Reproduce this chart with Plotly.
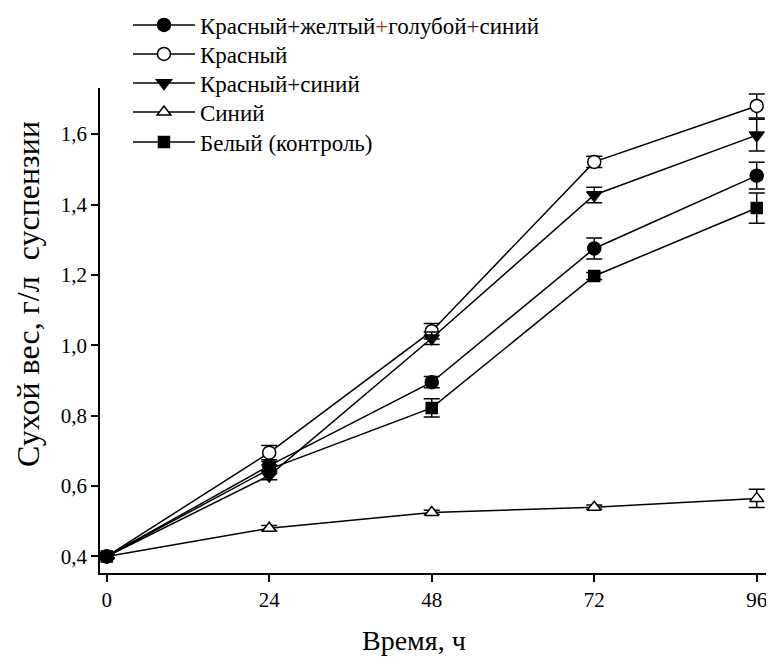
import plotly.graph_objects as go

hours = [0, 24, 48, 72, 96]

names = [
    'Красный+желтый<span style="color:#a8382c">+</span>голубой<span style="color:#5e1a35">+</span>синий',
    "Красный",
    "Красный+синий",
    "Синий",
    "Белый (контроль)",
]
ryb_vals = [0.40, 0.658, 0.895, 1.275, 1.482]
ryb_err = [0.005, 0.012, 0.016, 0.030, 0.038]
red_vals = [0.40, 0.695, 1.040, 1.521, 1.680]
red_err = [0.005, 0.020, 0.022, 0.016, 0.034]
rb_vals = [0.40, 0.630, 1.020, 1.427, 1.597]
rb_err = [0.005, 0.012, 0.018, 0.022, 0.045]
blue_vals = [0.40, 0.480, 0.525, 0.540, 0.565]
blue_err = [0.004, 0.008, 0.006, 0.006, 0.026]
white_vals = [0.40, 0.648, 0.822, 1.197, 1.390]
white_err = [0.005, 0.012, 0.026, 0.010, 0.043]

series_vals = [ryb_vals, red_vals, rb_vals, blue_vals, white_vals]
series_err = [ryb_err, red_err, rb_err, blue_err, white_err]
symbols = ["circle", "circle-open", "triangle-down", "triangle-up-open", "square"]
sizes = [13, 13, 13, 12, 11]

x_ticks = [0, 24, 48, 72, 96]
y_ticks = [0.4, 0.6, 0.8, 1.0, 1.2, 1.4, 1.6]
x_title = "Время, ч"
y_title = "Сухой вес, г/л  суспензии"

SERIF = "Liberation Serif"

legend_ids = ["legend", "legend2", "legend3", "legend4", "legend5"]
legend_rows = [0.970, 0.9186, 0.8673, 0.8159, 0.7628]

fig = go.Figure()
for name, vals, err, sym, sz, lid in zip(names, series_vals, series_err, symbols, sizes, legend_ids):
    is_open = sym.endswith("-open")
    base = sym.replace("-open", "")
    fig.add_trace(go.Scatter(
        x=hours, y=vals, name=name, mode="lines+markers", legend=lid,
        line=dict(color="black", width=1.5),
        marker=dict(symbol=base, size=sz,
                    color="white" if is_open else "black",
                    line=dict(color="black", width=1.5)),
        error_y=dict(type="data", array=err, visible=True,
                     color="black", thickness=1.5, width=8),
    ))

legend_layout = {}
for lid, ly in zip(legend_ids, legend_rows):
    legend_layout[lid] = dict(
        x=0.0415, y=ly, xanchor="left", yanchor="middle",
        bgcolor="rgba(0,0,0,0)", font=dict(family=SERIF, size=23, color="black"),
        itemwidth=62,
    )

# page body has an 8px margin; figure is sized so that it fills the window
fig.update_layout(
    width=766, height=649,
    margin=dict(l=92, r=0, t=0, b=84, autoexpand=False),
    plot_bgcolor="white", paper_bgcolor="white",
    separators=", ",
    font=dict(family=SERIF, color="black", size=20),
    showlegend=True,
    annotations=[
        dict(text=x_title, xref="paper", yref="paper", x=0.466, y=-0.1186,
             showarrow=False, xanchor="center", yanchor="middle",
             font=dict(family=SERIF, size=28, color="black")),
        dict(text=y_title, xref="paper", yref="paper", x=-0.107, y=0.4938,
             showarrow=False, xanchor="center", yanchor="middle", textangle=-90,
             font=dict(family=SERIF, size=32, color="black")),
    ],
    **legend_layout,
)
fig.update_xaxes(
    range=[-0.99, 98.55], tickvals=x_ticks, ticktext=[str(v) for v in x_ticks],
    showline=True, linecolor="black", linewidth=1.5, mirror=False,
    ticks="outside", ticklen=7, tickwidth=1.5, tickcolor="black",
    showgrid=False, zeroline=False,
    tickfont=dict(family=SERIF, size=21),
)
fig.update_yaxes(
    domain=[0, 485 / 565], anchor="x",
    range=[0.353, 1.731], tickvals=y_ticks, tickformat=".1f",
    showline=True, linecolor="black", linewidth=1.5, mirror=False,
    ticks="outside", ticklen=7, tickwidth=1.5, tickcolor="black",
    showgrid=False, zeroline=False,
    tickfont=dict(family=SERIF, size=21),
)

fig.write_html("out.html")
